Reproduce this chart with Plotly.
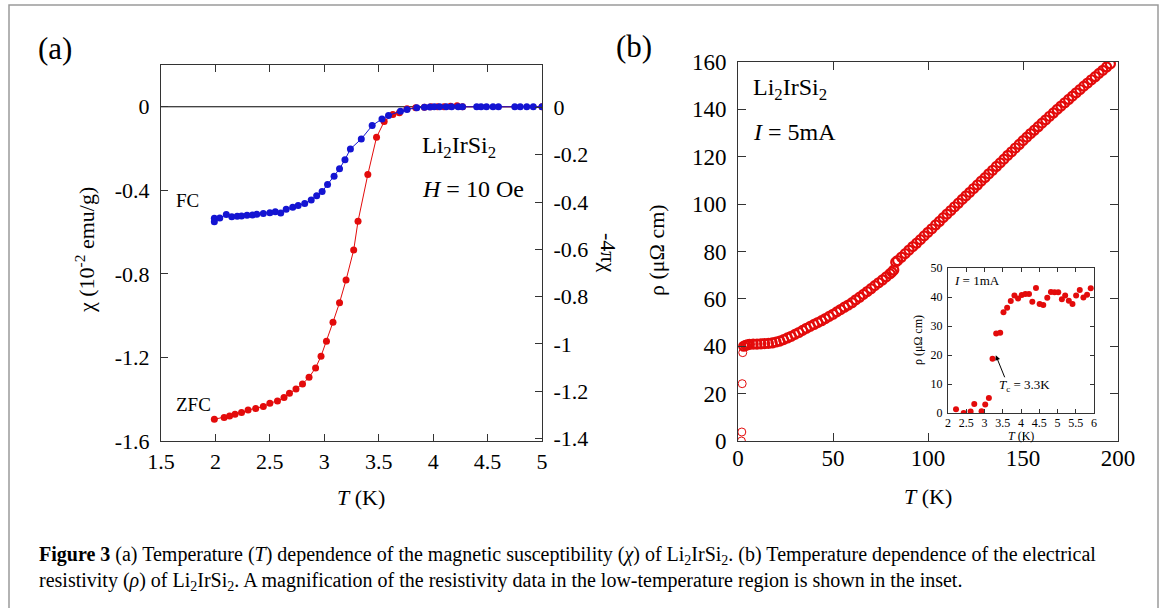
import plotly.graph_objects as go

W, H = 1171, 608

# ---------------- data: panel (a) ----------------
fc_T = [1.99, 1.99, 2.04, 2.10, 2.15, 2.20, 2.24, 2.29, 2.34, 2.38,
        2.44, 2.50, 2.55, 2.60, 2.65, 2.71, 2.76, 2.82, 2.88, 2.93,
        2.98, 3.03, 3.09, 3.14, 3.19, 3.24, 3.34, 3.44, 3.53, 3.59,
        3.70, 3.76, 3.85, 3.92, 3.97, 4.01, 4.06, 4.12, 4.17, 4.23,
        4.27, 4.40, 4.44, 4.49, 4.55, 4.60, 4.75, 4.80, 4.86, 4.92,
        5.00]
fc_chi = [-0.550, -0.534, -0.532, -0.516, -0.527, -0.524, -0.523, -0.519, -0.518, -0.515,
          -0.511, -0.507, -0.503, -0.508, -0.490, -0.481, -0.473, -0.463, -0.446, -0.426,
          -0.406, -0.372, -0.333, -0.297, -0.253, -0.202, -0.154, -0.090, -0.058, -0.042,
          -0.021, -0.013, -0.005, -0.002, -0.001, 0.0, 0.0, 0.0, 0.0, 0.0,
          0.0, 0.0, 0.0, 0.0, 0.0, 0.0, 0.0, 0.0, 0.0, 0.0,
          0.0]
zfc_T = [1.99, 2.08, 2.13, 2.18, 2.24, 2.30, 2.37, 2.44, 2.50, 2.57,
         2.63, 2.68, 2.74, 2.80, 2.86, 2.92, 2.97, 3.02, 3.08, 3.14,
         3.20, 3.27, 3.31, 3.40, 3.48, 3.55, 3.63, 3.69, 3.76, 3.84,
         3.92, 3.98, 4.04, 4.10, 4.16, 4.22, 4.27, 5.00]
zfc_chi = [-1.496, -1.488, -1.480, -1.472, -1.464, -1.452, -1.444, -1.435, -1.419, -1.408,
           -1.392, -1.372, -1.351, -1.327, -1.295, -1.250, -1.194, -1.122, -1.031, -0.938,
           -0.829, -0.686, -0.548, -0.324, -0.146, -0.071, -0.037, -0.029, -0.010, -0.005,
           -0.002, 0.0, 0.0, 0.0, 0.003, 0.005, 0.0, 0.0]

a_xticks = [1.5, 2, 2.5, 3, 3.5, 4, 4.5, 5]
a_xticklabels = ["1.5", "2", "2.5", "3", "3.5", "4", "4.5", "5"]
a_yticks = [0, -0.4, -0.8, -1.2, -1.6]
a_yticklabels = ["0", "-0.4", "-0.8", "-1.2", "-1.6"]
a_y2ticks = [0, -0.2, -0.4, -0.6, -0.8, -1.0, -1.2, -1.4]
a_y2ticklabels = ["0", "-0.2", "-0.4", "-0.6", "-0.8", "-1", "-1.2", "-1.4"]

# ---------------- data: panel (b) ----------------
low_T = [1.8, 2.0, 2.2, 2.5]
low_rho = [0.0, 3.8, 24.2, 37.3]

band_T = [3, 4, 5, 6, 8, 10, 12, 14, 16, 18,
          20, 22, 24, 26, 28, 30, 32, 34, 36, 38,
          40, 42, 44, 46, 48, 50, 52, 54, 56, 58,
          60, 62, 64, 66, 68, 70, 72, 74, 76, 78,
          80, 81, 82, 83, 84, 86, 88, 90, 92, 94,
          96, 98, 100, 102, 104, 106, 108, 110, 112, 114,
          116, 118, 120, 122, 124, 126, 128, 130, 132, 134,
          136, 138, 140, 142, 144, 146, 148, 150, 152, 154,
          156, 158, 160, 162, 164, 166, 168, 170, 172, 174,
          176, 178, 180, 182, 184, 186, 188, 190, 192, 194,
          196]
band_rho = [40.0, 40.4, 40.6, 40.8, 40.9, 40.9, 41.0, 41.1, 41.2, 41.4,
            41.8, 42.2, 42.8, 43.5, 44.2, 45.0, 45.8, 46.7, 47.6, 48.4,
            49.2, 50.0, 50.8, 51.7, 52.6, 53.5, 54.5, 55.5, 56.5, 57.4,
            58.4, 59.6, 60.7, 61.9, 63.1, 64.3, 65.6, 66.8, 68.0, 69.3,
            70.6, 71.3, 72.2, 75.5, 76.2, 77.6, 79.1, 80.6, 82.1, 83.5,
            85.0, 86.6, 88.1, 89.6, 91.2, 92.7, 94.3, 95.8, 97.3, 98.9,
            100.4, 102.0, 103.5, 105.0, 106.6, 108.1, 109.7, 111.2, 112.8, 114.3,
            115.9, 117.4, 119.0, 120.6, 122.1, 123.7, 125.2, 126.8, 128.3, 129.8,
            131.2, 132.7, 134.2, 135.6, 137.1, 138.5, 140.0, 141.4, 142.8, 144.2,
            145.6, 147.0, 148.4, 149.8, 151.1, 152.5, 153.8, 155.2, 156.5, 157.9,
            159.2]

b_xticks = [0, 50, 100, 150, 200]
b_yticks = [0, 20, 40, 60, 80, 100, 120, 140, 160]

# inset
ins_T = [2.22, 2.43, 2.62, 2.72, 2.92, 3.02, 3.12, 3.22, 3.32, 3.43,
         3.52, 3.62, 3.72, 3.82, 3.92, 4.02, 4.12, 4.22, 4.31, 4.41,
         4.51, 4.61, 4.72, 4.82, 4.92, 5.02, 5.12, 5.21, 5.31, 5.41,
         5.51, 5.61, 5.71, 5.81, 5.91]
ins_rho = [1.3, 0.0, 0.5, 3.1, 0.6, 2.9, 5.2, 18.7, 27.4, 27.7,
           34.7, 36.3, 38.6, 40.5, 39.5, 40.7, 41.0, 41.0, 38.4, 43.1,
           37.6, 37.2, 39.7, 41.7, 41.6, 41.6, 39.2, 40.5, 38.7, 37.6,
           40.5, 42.4, 39.8, 40.8, 43.0]
ins_xticks = [2, 2.5, 3, 3.5, 4, 4.5, 5, 5.5, 6]
ins_xticklabels = ["2", "2.5", "3", "3.5", "4", "4.5", "5", "5.5", "6"]
ins_yticks = [0, 10, 20, 30, 40, 50]
tc_point = (3.31, 19.9)
tc_tail = (3.57, 11.8)

RED = "#e30b0b"
BLUE = "#1414d2"
AX = "#333333"
SERIF = "Liberation Serif"


def px(x):
    return x / W


def py(y):
    return 1 - y / H


fig = go.Figure()

# panel (a)
fig.add_trace(go.Scatter(x=zfc_T, y=zfc_chi, mode="lines+markers",
                         line=dict(color=RED, width=1),
                         marker=dict(color=RED, size=7),
                         xaxis="x", yaxis="y", showlegend=False))
fig.add_trace(go.Scatter(x=fc_T, y=fc_chi, mode="lines+markers",
                         line=dict(color=BLUE, width=1),
                         marker=dict(color=BLUE, size=7),
                         xaxis="x", yaxis="y", showlegend=False))
fig.add_trace(go.Scatter(x=[None], y=[None], xaxis="x", yaxis="y2",
                         showlegend=False, hoverinfo="skip"))

# panel (b)
fig.add_trace(go.Scatter(x=band_T, y=band_rho, mode="markers",
                         marker=dict(symbol="circle-open", color=RED, size=9,
                                     line=dict(width=2.2, color=RED)),
                         xaxis="x2", yaxis="y3", showlegend=False, cliponaxis=True))
fig.add_trace(go.Scatter(x=low_T, y=low_rho, mode="markers",
                         marker=dict(symbol="circle-open", color=RED, size=8,
                                     line=dict(width=1, color=RED)),
                         xaxis="x2", yaxis="y3", showlegend=False, cliponaxis=True))

# inset
fig.add_trace(go.Scatter(x=ins_T, y=ins_rho, mode="markers",
                         marker=dict(color=RED, size=6),
                         xaxis="x3", yaxis="y4", showlegend=False))

tickfont_a = dict(family=SERIF, size=22, color="black")
tickfont_b = dict(family=SERIF, size=23, color="black")
tickfont_i = dict(family=SERIF, size=12, color="black")

common = dict(showline=True, linecolor=AX, linewidth=1, ticks="inside",
              tickcolor=AX, showgrid=False, zeroline=False, automargin=False)

a_dom_x = [px(161), px(542)]
a_dom_y = [py(441), py(65)]
b_dom_x = [px(738), px(1118)]
b_dom_y = [py(441), py(62)]
i_dom_x = [px(948), px(1094)]
i_dom_y = [py(413), py(268)]

fig.update_layout(
    template="none",
    width=W, height=H, margin=dict(l=0, r=0, t=0, b=0, pad=0), autosize=False,
    paper_bgcolor="white", plot_bgcolor="rgba(0,0,0,0)",
    xaxis=dict(domain=a_dom_x, anchor="y", range=[1.5, 5],
               tickvals=a_xticks, ticktext=a_xticklabels, mirror="ticks",
               ticklen=7, tickfont=tickfont_a, ticklabelstandoff=1, **common),
    yaxis=dict(domain=a_dom_y, anchor="x", range=[-1.6, 0.2],
               tickvals=a_yticks, ticktext=a_yticklabels,
               ticklen=7, tickfont=tickfont_a, ticklabelstandoff=6, **common),
    yaxis2=dict(overlaying="y", side="right", anchor="x", range=[-1.41, 0.179],
                tickvals=a_y2ticks, ticktext=a_y2ticklabels,
                ticklen=7, tickfont=tickfont_a, ticklabelstandoff=6, **common),
    xaxis2=dict(domain=b_dom_x, anchor="y3", range=[0, 200],
                tickvals=b_xticks, mirror="ticks", ticklen=8,
                tickfont=tickfont_b, ticklabelstandoff=-4, **common),
    yaxis3=dict(domain=b_dom_y, anchor="x2", range=[0, 160],
                tickvals=b_yticks, mirror="ticks", ticklen=8,
                tickfont=tickfont_b, ticklabelstandoff=6, **common),
    xaxis3=dict(domain=i_dom_x, anchor="y4", range=[2, 6],
                tickvals=ins_xticks, ticktext=ins_xticklabels, mirror="ticks",
                ticklen=4, tickfont=tickfont_i, ticklabelstandoff=-1, **common),
    yaxis4=dict(domain=i_dom_y, anchor="x3", range=[0, 50],
                tickvals=ins_yticks, mirror="ticks", ticklen=4,
                tickfont=tickfont_i, ticklabelstandoff=2, **common),
)

# zero line in (a)
fig.add_shape(type="line", xref="x domain", yref="y", x0=0, x1=1, y0=0, y1=0,
              line=dict(color="black", width=1), layer="below")
# outer frame
fig.add_shape(type="rect", xref="paper", yref="paper",
              x0=px(9), x1=px(1158), y0=-0.02, y1=py(5),
              line=dict(color="#9a9a9a", width=1.5))

anns = []


def txt(x, y, s, size, angle=0, xanchor="center", yanchor="middle", align="center"):
    anns.append(dict(x=px(x), y=py(y), xref="paper", yref="paper", text=s,
                     showarrow=False, textangle=angle, xanchor=xanchor,
                     yanchor=yanchor, align=align,
                     font=dict(family=SERIF, size=size, color="black")))


txt(55, 48, "(a)", 31)
txt(634, 47, "(b)", 31)

# axis titles
txt(85, 250, "χ (10<sup>-2</sup> emu/g)", 22, angle=-90)
txt(609, 252, "-4πχ", 22, angle=90)
txt(361, 497, "<i>T</i> (K)", 22)
txt(657, 250, "ρ (μΩ cm)", 22, angle=-90)
txt(928, 496, "<i>T</i> (K)", 22)

# panel (a) labels
txt(174, 200, "FC", 19, xanchor="left")
txt(174, 405, "ZFC", 19, xanchor="left")
txt(420, 147, "Li<sub>2</sub>IrSi<sub>2</sub>", 24, xanchor="left")
txt(420, 189, "<i>H</i> = 10 Oe", 24, xanchor="left")

# panel (b) labels
txt(751, 89, "Li<sub>2</sub>IrSi<sub>2</sub>", 24, xanchor="left")
txt(751, 132, "<i>I</i> = 5mA", 24, xanchor="left")

# inset labels
txt(952, 280, "<i>I</i> = 1mA", 13, xanchor="left")
txt(997, 386, "<i>T</i><sub>c</sub> = 3.3K", 13, xanchor="left")
txt(918, 340, "ρ (μΩ cm)", 12, angle=-90)
txt(1021, 436, "<i>T</i> (K)", 12)

# caption (one text block, two lines)
txt(37, 568,
    "<b>Figure 3</b> (a) Temperature (<i>T</i>) dependence of the magnetic susceptibility (<i>χ</i>) "
    "of Li<sub>2</sub>IrSi<sub>2</sub>. (b) Temperature dependence of the electrical<br>"
    "resistivity (<i>ρ</i>) of Li<sub>2</sub>IrSi<sub>2</sub>. A magnification of the resistivity "
    "data in the low-temperature region is shown in the inset.", 20,
    xanchor="left", align="left")

# Tc arrow
anns.append(dict(x=tc_point[0], y=tc_point[1], xref="x3", yref="y4",
                 ax=tc_tail[0], ay=tc_tail[1], axref="x3", ayref="y4",
                 showarrow=True, arrowhead=2, arrowsize=1, arrowwidth=1,
                 arrowcolor="black", text=""))

fig.update_layout(annotations=anns)
fig.write_html("out.html", config={"displayModeBar": False},
               post_script="document.body.style.margin='0px';")
